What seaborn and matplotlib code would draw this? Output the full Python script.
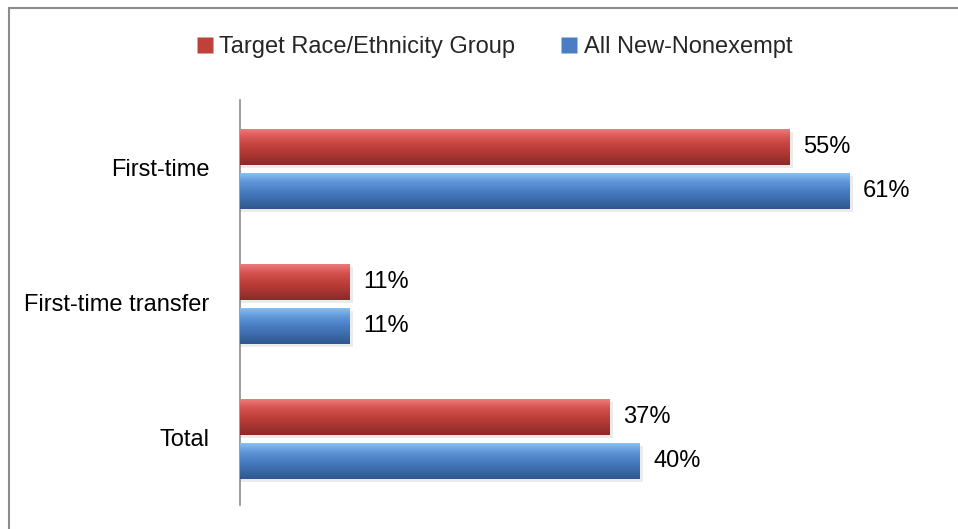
import numpy as np
import pandas as pd
import matplotlib
matplotlib.use("Agg")
import matplotlib.pyplot as plt
import seaborn as sns
from matplotlib.patches import Rectangle
from matplotlib.lines import Line2D

categories = ["First-time", "First-time transfer", "Total"]
series = ["Target Race/Ethnicity Group", "All New-Nonexempt"]
target_vals = [55, 11, 37]
all_vals = [61, 11, 40]
colors = ["#C0403C", "#4A7EC4"]

df = pd.DataFrame({
    "category": categories * 2,
    "series": [series[0]] * 3 + [series[1]] * 3,
    "value": target_vals + all_vals,
})

sns.set_theme(style="white")
FONT = ["Liberation Sans Narrow", "Liberation Sans", "DejaVu Sans"]
plt.rcParams["font.family"] = FONT
FS = 17

fig = plt.figure(figsize=(9.58, 5.29), dpi=100)
W, H = 958, 529
ax = fig.add_axes([240 / W, 1 - 505 / H, 700 / W, 405 / H])

sns.barplot(data=df, y="category", x="value", hue="series", orient="h",
            palette=colors, width=0.652, ax=ax, legend=False, saturation=1)

grad_cols = {
    0: ["#EE8080", "#D65550", "#C0403C", "#A83532", "#8A2A28"],
    1: ["#8CC4F2", "#5F98DA", "#4A7EC4", "#3D6BAA", "#2F578C"],
}

bar_h = 0.267
patches = [p for p in ax.patches]
for i, p in enumerate(patches):
    s = 0 if i < 3 else 1
    y0 = p.get_y()
    h0 = p.get_height()
    cy = y0 + h0 / 2 + 0.01
    p.set_y(cy - bar_h / 2)
    p.set_height(bar_h)
    p.set_edgecolor("none")
    w = p.get_width()
    sh = Rectangle((0, cy - bar_h / 2 + 0.025), w + 0.3, bar_h, facecolor="#000000",
                   alpha=0.08, edgecolor="none", zorder=1)
    ax.add_patch(sh)
    p.set_zorder(2)
    cmap = matplotlib.colors.LinearSegmentedColormap.from_list("g", grad_cols[s])
    grad = np.linspace(0, 1, 64).reshape(-1, 1)
    im = ax.imshow(grad, cmap=cmap, aspect="auto",
                   extent=[0, w, cy + bar_h / 2, cy - bar_h / 2],
                   zorder=3, interpolation="bicubic")
    im.set_clip_path(p)
    ax.text(w + 1.3, cy, f"{int(round(w))}%", va="center", ha="left",
            fontsize=FS, color="#000000", family=FONT, zorder=4)

ax.set_xlim(0, 70)
ax.set_ylim(2.5, -0.5)

for side in ["top", "right", "bottom"]:
    ax.spines[side].set_visible(False)
ax.spines["left"].set_color("#8C8C8C")
ax.spines["left"].set_linewidth(1.2)
ax.set_xticks([])
ax.set_xlabel("")
ax.set_ylabel("")
ax.tick_params(axis="y", length=0, pad=22, labelsize=FS, labelcolor="#000000")
for t in ax.get_yticklabels():
    t.set_family(FONT)

handles = [Line2D([0], [0], marker="s", linestyle="none", markersize=11,
                  markerfacecolor=c, markeredgecolor="none") for c in colors]
fig.legend(handles, series, loc="center", bbox_to_anchor=(494 / W, 1 - 47 / H),
           ncol=2, frameon=False, handlelength=0.75, handletextpad=0.25,
           columnspacing=1.9, prop={"family": FONT, "size": FS})

border = Rectangle((8.5 / W, -0.05), 1.1, 1 - 7.5 / H + 0.05,
                   transform=fig.transFigure, fill=False, edgecolor="#8C8C8C",
                   linewidth=1.5, zorder=0)
fig.add_artist(border)

fig.savefig("out.png", dpi=100)
